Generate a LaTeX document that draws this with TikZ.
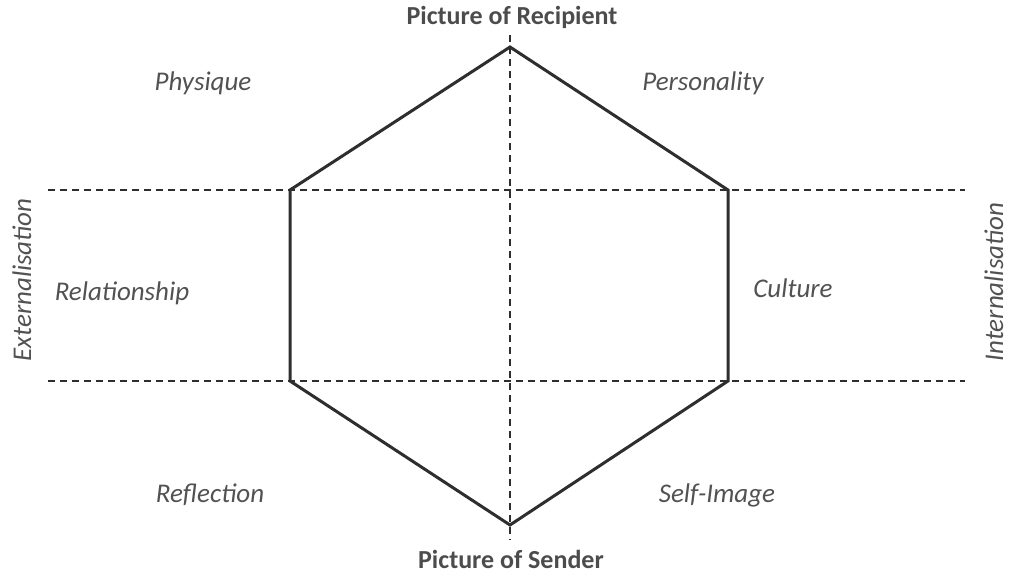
\documentclass[tikz,border=0pt]{standalone}
\usepackage{fontspec}
\setmainfont{Carlito}
\begin{document}
\begin{tikzpicture}[x=1pt,y=-1pt,
  hexline/.style={draw=black!82, line width=3pt, line join=miter},
  guide/.style={draw=black!82, line width=2pt, dash pattern=on 7pt off 5pt},
  lab/.style={font=\fontsize{27}{31}\selectfont\itshape, text=black!68, inner sep=0pt},
  side/.style={font=\fontsize{27}{31}\selectfont\itshape, text=black!68, inner sep=0pt, text depth=0pt, rotate=90, anchor=base},
  ttl/.style={font=\fontsize{26}{30}\selectfont\bfseries, text=black!70, inner sep=0pt}]
\useasboundingbox (0,0) rectangle (1010,575);
\coordinate (T) at (510,47);
\coordinate (UL) at (290,190);
\coordinate (UR) at (728,190);
\coordinate (LL) at (290,381);
\coordinate (LR) at (728,381);
\coordinate (B) at (510,525);
\coordinate (vt) at (510,35);
\coordinate (vb) at (510,540);
\coordinate (h1l) at (48,190);
\coordinate (h1r) at (965,190);
\coordinate (h2l) at (48,381);
\coordinate (h2r) at (965,381);
\draw[guide] (h1l) -- (h1r);
\draw[guide] (h2l) -- (h2r);
\draw[guide] (vt) -- (vb);
\draw[hexline] (T) -- (UR) -- (LR) -- (B) -- (LL) -- (UL) -- cycle;
\node[ttl] (rec) at (512,17) {Picture of Recipient};
\node[ttl] (snd) at (511,559) {Picture of Sender};
\node[lab] (phy) at (203,83) {Physique};
\node[lab] (per) at (703,83) {Personality};
\node[lab] (rel) at (122,293) {Relationship};
\node[lab] (cul) at (793,288) {Culture};
\node[lab] (ref) at (210,495) {Reflection};
\node[lab] (self) at (717,495) {Self-Image};
\node[side] (ext) at (31,280) {Externalisation};
\node[side] (int) at (1003,282) {Internalisation};
\end{tikzpicture}
\end{document}
